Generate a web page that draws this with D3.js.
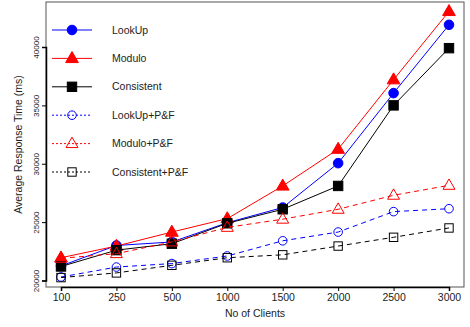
<!DOCTYPE html>
<html>
<head>
<meta charset="utf-8">
<script src="https://cdn.jsdelivr.net/npm/d3@7"></script>
<style>
body { margin: 0; background: #fff; }
text { font-family: "Liberation Sans", Arial, sans-serif; }
</style>
</head>
<body>
<svg id="chart" width="470" height="327"></svg>
<script>
// chart data
const clients = ["100", "250", "500", "1000", "1500", "2000", "2500", "3000"];
const lookup = [21250, 23000, 23300, 24950, 26250, 30050, 36050, 41900];
const modulo = [21950, 22950, 24150, 25300, 28100, 31250, 37200, 43050];
const consistent = [21200, 22600, 23150, 24900, 26100, 28100, 35000, 39900];
const lookupPF = [20300, 21150, 21450, 22100, 23400, 24150, 25900, 26150];
const moduloPF = [21900, 22300, 23300, 24550, 25250, 26100, 27300, 28150];
const consistentPF = [20250, 20650, 21300, 21950, 22200, 22950, 23700, 24500];
const yTicks = [20000, 25000, 30000, 35000, 40000];

const series = [
    {name: "LookUp", values: lookup, color: "blue", shape: "circle", fill: true, dash: null},
    {name: "Modulo", values: modulo, color: "red", shape: "triangle", fill: true, dash: null},
    {name: "Consistent", values: consistent, color: "black", shape: "square", fill: true, dash: null},
    {name: "LookUp+P&F", values: lookupPF, color: "blue", shape: "circle", fill: false, dash: "5,4"},
    {name: "Modulo+P&F", values: moduloPF, color: "red", shape: "triangle", fill: false, dash: "5,4"},
    {name: "Consistent+P&F", values: consistentPF, color: "black", shape: "square", fill: false, dash: "5,4"}
];

const svg = d3.select("#chart");

const plotLeft = 46, plotRight = 464, plotTop = 2, plotBottom = 287;

const x = d3.scalePoint()
    .domain(clients)
    .range([61, 449]);

const y = d3.scaleLinear()
    .domain([20000, 40000])
    .range([280.5, 47]);

// frame
svg.append("rect")
    .attr("x", plotLeft)
    .attr("y", plotTop)
    .attr("width", plotRight - plotLeft)
    .attr("height", plotBottom - plotTop)
    .attr("fill", "none")
    .attr("stroke", "#555")
    .attr("stroke-width", 1);

// x axis
const xAxis = svg.append("g")
    .attr("transform", "translate(0," + plotBottom + ")")
    .call(d3.axisBottom(x).tickSizeOuter(0).tickSize(4).tickPadding(3));
xAxis.select(".domain").attr("stroke", "#000").attr("stroke-width", 1.5);
xAxis.selectAll("text").style("font-size", "10.5px").attr("fill", "#222");

// y axis
const yAxis = svg.append("g")
    .attr("transform", "translate(" + plotLeft + ",0)")
    .call(d3.axisLeft(y).tickValues(yTicks).tickFormat(d3.format("d")).tickSizeOuter(0).tickSize(4));
yAxis.select(".domain").attr("stroke", "#000").attr("stroke-width", 1.5);
yAxis.selectAll("text")
    .style("font-size", "8px")
    .attr("fill", "#222")
    .attr("text-anchor", "middle")
    .attr("transform", "translate(-10,0) rotate(-90)")
    .attr("x", 0)
    .attr("dy", "0.32em");

// axis titles
svg.append("text")
    .text("No of Clients")
    .attr("x", (plotLeft + plotRight) / 2)
    .attr("y", 317)
    .attr("text-anchor", "middle")
    .style("font-size", "10.5px")
    .attr("fill", "#222");

svg.append("text")
    .text("Average Response Time (ms)")
    .attr("text-anchor", "middle")
    .style("font-size", "10.5px")
    .attr("fill", "#222")
    .attr("transform", "translate(22," + ((plotTop + plotBottom) / 2) + ") rotate(-90)");

function drawMarker(g, s, cx, cy) {
    const fill = s.fill ? s.color : "none";
    if (s.shape === "circle") {
        g.append("circle")
            .attr("cx", cx).attr("cy", cy)
            .attr("r", s.fill ? 4.8 : 4.3)
            .attr("fill", fill)
            .attr("stroke", s.color)
            .attr("stroke-width", 1);
    } else if (s.shape === "triangle") {
        const sym = d3.symbol().type(d3.symbolTriangle).size(s.fill ? 70 : 62);
        g.append("path")
            .attr("d", sym())
            .attr("transform", "translate(" + cx + "," + (cy + 0.5) + ")")
            .attr("fill", fill)
            .attr("stroke", s.color)
            .attr("stroke-width", 1);
    } else {
        const h = s.fill ? 4.7 : 4.2;
        g.append("rect")
            .attr("x", cx - h).attr("y", cy - h)
            .attr("width", 2 * h).attr("height", 2 * h)
            .attr("fill", fill)
            .attr("stroke", s.color)
            .attr("stroke-width", 1);
    }
}

const line = d3.line()
    .x((d, i) => x(clients[i]))
    .y(d => y(d));

series.forEach(s => {
    const g = svg.append("g");
    g.append("path")
        .datum(s.values)
        .attr("d", line)
        .attr("fill", "none")
        .attr("stroke", s.color)
        .attr("stroke-width", 1)
        .attr("stroke-dasharray", s.dash);
    s.values.forEach((v, i) => drawMarker(g, s, x(clients[i]), y(v)));
});

// legend
series.forEach((s, i) => {
    const ly = 30 + i * 28.4;
    const g = svg.append("g");
    g.append("line")
        .attr("x1", 52).attr("x2", 92)
        .attr("y1", ly).attr("y2", ly)
        .attr("stroke", s.color)
        .attr("stroke-width", 1)
        .attr("stroke-dasharray", s.dash ? "2,2" : null);
    drawMarker(g, s, 72, ly);
    g.append("text")
        .text(s.name)
        .attr("x", 112)
        .attr("y", ly)
        .attr("dy", "0.35em")
        .style("font-size", "10.5px")
        .attr("fill", "#222");
});
</script>
</body>
</html>
